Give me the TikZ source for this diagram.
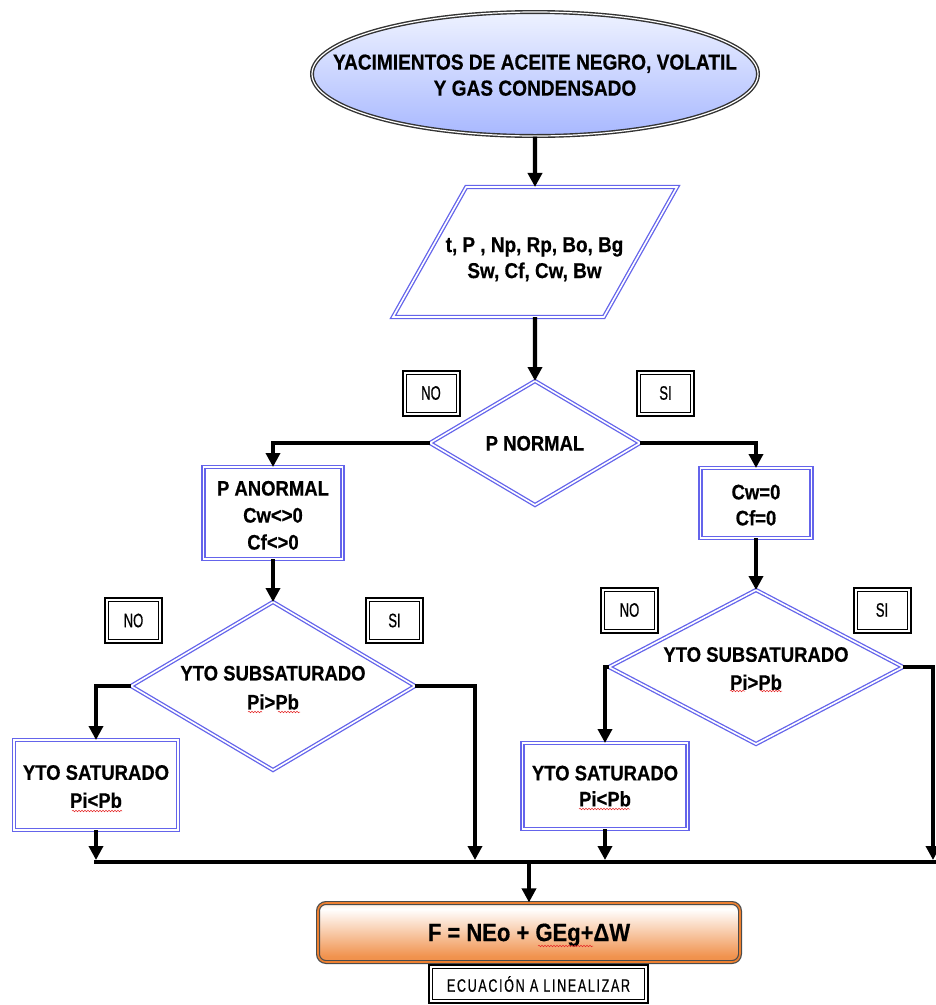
\documentclass[tikz,border=0pt]{standalone}
\usepackage{fontspec}
\usetikzlibrary{shapes.geometric,arrows.meta,backgrounds,decorations.pathmorphing}

\newfontfamily\cnd[FakeStretch=0.88,BoldFeatures={FakeBold=0.5}]{Liberation Sans}
\newfontfamily\tagf[FakeStretch=0.67,FakeBold=0.6]{Liberation Sans}
\newfontfamily\tagsp[FakeStretch=0.7,LetterSpace=9,FakeBold=0.4]{Liberation Sans}

\definecolor{edgeblue}{RGB}{100,100,235}
\definecolor{skytop}{RGB}{238,242,255}
\definecolor{skybot}{RGB}{168,184,255}
\definecolor{orngD}{RGB}{238,128,48}
\definecolor{orngL}{RGB}{250,196,145}
\definecolor{squigred}{RGB}{230,40,40}

\pgfdeclareverticalshading{eqshade}{100bp}{color(0bp)=(orngD); color(30bp)=(orngD!85!white); color(70bp)=(white); color(90bp)=(orngL); color(100bp)=(orngD!80!white)}

% zero-size centred text block, so that the shape size comes only from minimum width/height
\newcommand\tx[2][0pt]{\makebox[0pt]{\smash{\raisebox{\dimexpr#1-0.35em\relax}{\begin{tabular}{@{}c@{}}#2\end{tabular}}}}}

\tikzset{
  flow/.style={line width=4.2pt, -{Triangle[length=14pt,width=14pt]}},
  wire/.style={line width=4.2pt},
  blue2/.style={draw=edgeblue, line width=1.3pt, double=white, double distance=1.6pt,
    fill=white, inner sep=0pt, outer sep=0pt},
  procbox/.style={blue2, rectangle},
  decision/.style={blue2, diamond},
  iobox/.style={blue2, trapezium, trapezium left angle=62, trapezium right angle=118,
    trapezium stretches=true},
  tag/.style={draw, line width=2pt, fill=white, inner sep=0pt, outer sep=0pt,
    minimum width=57pt, minimum height=45pt, font=\tagf\fontsize{19.5}{21}\selectfont,
    path picture={\draw[line width=0.8pt]
      ([shift={(3.6pt,3.6pt)}]path picture bounding box.south west) rectangle
      ([shift={(-3.6pt,-3.6pt)}]path picture bounding box.north east);}},
  bold21/.style={font=\cnd\bfseries\fontsize{21}{#1}\selectfont},
  bold21/.default=27,
  squig/.style={draw=squigred, line width=0.5pt, decorate,
    decoration={snake, amplitude=0.8pt, segment length=3pt}},
}

\begin{document}
\begin{tikzpicture}[x=1pt,y=-1pt]
\useasboundingbox (0,0) rectangle (936,1005);

% start terminal
\node[ellipse, draw=black!80, line width=1.4pt, double=white, double distance=1.2pt,
  top color=skytop, bottom color=skybot, minimum width=446pt, minimum height=124pt,
  inner sep=0pt, font=\cnd\bfseries\fontsize{21.7}{26}\selectfont] (src) at (535,74)
  {\tx[-1pt]{YACIMIENTOS DE ACEITE NEGRO, VOLATIL\\Y GAS CONDENSADO}};

% input data
\node[iobox, minimum width=284pt, minimum height=130pt,
  font=\cnd\bfseries\fontsize{21.5}{26}\selectfont] (params) at (535,252)
  {\tx[-5pt]{t, P , Np, Rp, Bo, Bg\\Sw, Cf, Cw, Bw}\phantom{\rule{1pt}{1pt}}};

% first decision
\node[decision, minimum width=210pt, minimum height=124pt, bold21] (pn) at (535,443) {\tx{P NORMAL}};
\node[tag] (pnno) at (431,393) {NO};
\node[tag] (pnsi) at (665.5,393) {SI};

% abnormal / normal pressure
\node[procbox, minimum width=139pt, minimum height=92pt, bold21] (pa) at (273,513)
  {\tx[-2pt]{P ANORMAL\\Cw<>0\\Cf<>0}};
\node[procbox, minimum width=111pt, minimum height=70pt, bold21=26] (cw) at (756,503)
  {\tx[-2pt]{Cw=0\\Cf=0}};

% left saturation test
\node[decision, minimum width=284pt, minimum height=168pt, bold21=29] (ld) at (273,686)
  {\tx[-1pt]{YTO SUBSATURADO\\Pi>Pb}};
\node[tag] (ldno) at (133.5,620.5) {NO};
\node[tag] (ldsi) at (394.5,620.5) {SI};
\node[procbox, minimum width=164pt, minimum height=90pt, bold21=28] (ls) at (96,785)
  {\tx[-1pt]{YTO SATURADO\\Pi<Pb}};

% right saturation test
\node[decision, minimum width=294pt, minimum height=154pt, bold21=28] (rd) at (756,667)
  {\tx[-1pt]{YTO SUBSATURADO\\Pi>Pb}};
\node[tag] (rdno) at (629.5,610) {NO};
\node[tag] (rdsi) at (882,610) {SI};
\node[procbox, minimum width=165pt, minimum height=86pt, bold21=26] (rs) at (605,786)
  {\tx[0pt]{YTO SATURADO\\Pi<Pb}};

% material balance equation
\node[rectangle, rounded corners=8pt, draw=black!70, line width=1.2pt, double=orngD,
  double distance=1.6pt, shade, shading=eqshade, minimum width=422pt, minimum height=59pt,
  inner sep=0pt, font=\cnd\bfseries\fontsize{25}{30}\selectfont] (eq) at (529,932.5)
  {\tx{F = NEo + GEg+ΔW}};
\node[tag, minimum width=219pt, minimum height=38pt, font=\tagsp\fontsize{18}{20}\selectfont]
  (lin) at (538.5,984) {ECUACIÓN A LINEALIZAR};

% connectors
\draw[flow] (src.south) -- (params.north);
\draw[flow] (params.south) -- (pn.north);
\draw[flow] (pn.west) -| (pa.north);
\draw[flow] (pn.east) -| (cw.north);
\draw[flow] (pa.south) -- (ld.north);
\draw[flow] (cw.south) -- (rd.north);
\draw[flow] (ld.west) -| (ls.north);
\draw[flow] (rd.west) -| (rs.north);

% collector bus
\coordinate (busy) at (0,860);
\coordinate (busL) at (94,862);
\coordinate (busR) at (936,862);
\coordinate (dropL) at (475,860);
\coordinate (dropR) at (933,860);
\draw[wire] (busL) -- (busR);
\draw[flow] (ls.south) -- (ls.south |- busy);
\draw[flow] (ld.east) -| (dropL);
\draw[flow] (rs.south) -- (rs.south |- busy);
\draw[flow] (rd.east) -| (dropR);
\draw[flow] (eq.north |- busy) -- (eq.north);

% spell-check underlines
\draw[squig] (248,712) -- (262,712);
\draw[squig] (278,712) -- (300,712);
\draw[squig] (730,691) -- (745,691);
\draw[squig] (760,691) -- (782,691);
\draw[squig] (72,811) -- (122,811);
\draw[squig] (579,809) -- (630,809);
\draw[squig] (538,946) -- (593,946);
\end{tikzpicture}
\end{document}
